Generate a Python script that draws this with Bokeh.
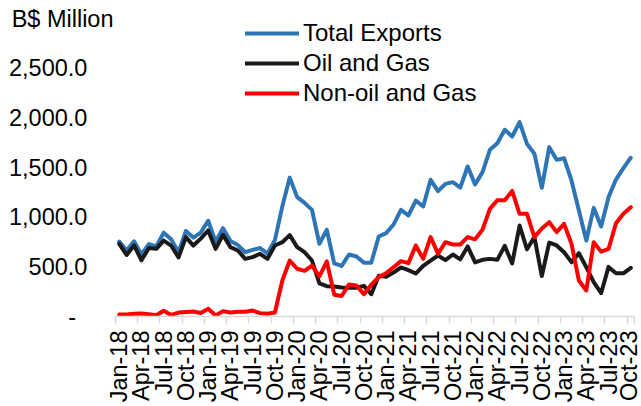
import math
from bokeh.plotting import figure
from bokeh.models import Range1d, FixedTicker, Legend, LegendItem
from bokeh.embed import file_html
from bokeh.resources import INLINE

# Monthly data, Jan-18 .. Oct-23 (70 months), B$ Million
tick_labels = ["Jan-18", "Apr-18", "Jul-18", "Oct-18", "Jan-19", "Apr-19", "Jul-19", "Oct-19",
               "Jan-20", "Apr-20", "Jul-20", "Oct-20", "Jan-21", "Apr-21", "Jul-21", "Oct-21",
               "Jan-22", "Apr-22", "Jul-22", "Oct-22", "Jan-23", "Apr-23", "Jul-23", "Oct-23"]

total_exports = [755, 665, 758, 625, 730, 706, 845, 778, 648, 862, 795, 845,
                 965, 755, 890, 760, 720, 648, 672, 690, 635, 770, 1110, 1400, 1203,
                 1145, 1075, 733, 874, 535, 510, 625, 605, 543, 543, 806, 840, 927, 1075,
                 1018, 1169, 1109, 1378, 1263, 1337, 1354, 1300,
                 1512, 1331, 1455, 1680, 1747, 1882, 1814, 1959, 1740, 1640, 1297, 1707,
                 1579, 1595, 1371, 1068, 766, 1095, 907, 1203, 1380, 1495, 1600]

oil_and_gas = [733, 620, 716, 567, 690, 682, 765, 715, 595, 800, 715, 785,
               867, 682, 823, 699, 665, 581, 598, 632, 581, 716, 749, 820, 699,
               648, 564, 333, 305, 302, 292, 290, 290, 309, 225, 410, 400, 443, 494,
               467, 433, 511, 564, 615, 568, 625, 576,
               706, 545, 571, 581, 571, 712, 535, 917, 677, 800, 408, 745, 716, 648,
               548, 638, 497, 346, 235, 500, 435, 435, 491]

non_oil_and_gas = [20, 20, 27, 30, 22, 12, 58, 15, 40, 45, 50, 35,
                   77, 10, 54, 40, 47, 47, 60, 34, 27, 40, 363, 564, 481,
                   460, 514, 405, 556, 220, 207, 323, 312, 225, 320, 397, 437, 497, 558,
                   538, 716, 581, 800, 632, 749, 726, 726,
                   800, 778, 875, 1085, 1172, 1172, 1266, 1035, 1035, 800, 887, 951,
                   850, 934, 733, 363, 262, 749, 654, 682, 940, 1035, 1102]

# y-axis tick values and labels (the unit caption sits at the top of the value axis)
y_ticks = [0, 500, 1000, 1500, 2000, 2500, 3000]
y_tick_labels = ["-", "500.0", "1,000.0", "1,500.0", "2,000.0", "2,500.0", "B$ Million"]

FONT = "Liberation Sans"
FS = "23.5px"
NB = "\u00a0"

# pad numeric labels on the right so that they line up left of the unit caption
pads = [NB * 5 + "\u2009"] + [NB * 4] * 5 + [""]
y_label_text = [lab + pad for lab, pad in zip(y_tick_labels, pads)]

months = list(range(len(total_exports)))
label_pos = list(range(0, len(total_exports), 3))
boundaries = [m - 0.5 for m in label_pos] + [len(total_exports) - 0.5]

p = figure(width=641, height=406, output_backend="svg", toolbar_location=None,
           x_range=Range1d(-0.5, len(total_exports) - 0.5), y_range=Range1d(0, 3044),
           min_border_left=115, min_border_right=7, min_border_top=14, min_border_bottom=90)
p.outline_line_color = None
p.xgrid.grid_line_color = None
p.ygrid.grid_line_color = None
p.background_fill_color = "white"
p.border_fill_color = "white"

# x axis: labels at every third month, tick marks on category boundaries
p.xaxis.ticker = FixedTicker(ticks=label_pos, minor_ticks=boundaries)
p.xaxis.major_label_overrides = {pos: lab for pos, lab in zip(label_pos, tick_labels)}
p.xaxis.major_label_orientation = math.pi / 2
p.xaxis.major_tick_line_color = None
p.xaxis.major_tick_out = 0
p.xaxis.major_tick_in = 0
p.xaxis.minor_tick_line_color = "#d9d9d9"
p.xaxis.minor_tick_line_width = 1.5
p.xaxis.minor_tick_out = 7
p.xaxis.minor_tick_in = 0
p.xaxis.axis_line_color = "#d9d9d9"
p.xaxis.axis_line_width = 1.5
p.xaxis.major_label_standoff = 7
p.xaxis.major_label_text_font = FONT
p.xaxis.major_label_text_font_size = FS
p.xaxis.major_label_text_color = "black"

# y axis
p.yaxis.ticker = FixedTicker(ticks=y_ticks)
p.yaxis.major_label_overrides = {t: lab for t, lab in zip(y_ticks, y_label_text)}
p.yaxis.axis_line_color = None
p.yaxis.major_tick_line_color = None
p.yaxis.minor_tick_line_color = None
p.yaxis.major_tick_out = 0
p.yaxis.major_tick_in = 0
p.yaxis.minor_tick_out = 0
p.yaxis.minor_tick_in = 0
p.yaxis.major_label_standoff = 2
p.yaxis.major_label_text_font = FONT
p.yaxis.major_label_text_font_size = FS
p.yaxis.major_label_text_color = "black"

r1 = p.line(months, total_exports, line_color="#2e75b6", line_width=4, line_join="round", line_cap="round")
r2 = p.line(months, oil_and_gas, line_color="#1a1a1a", line_width=4, line_join="round", line_cap="round")
r3 = p.line(months, non_oil_and_gas, line_color="#ff0000", line_width=4, line_join="round", line_cap="round")

legend = Legend(items=[LegendItem(label="Total Exports", renderers=[r1]),
                       LegendItem(label="Oil and Gas", renderers=[r2]),
                       LegendItem(label="Non-oil and Gas", renderers=[r3])],
                location=(130, 209))
legend.background_fill_alpha = 0
legend.border_line_color = None
legend.padding = 0
legend.margin = 0
legend.glyph_width = 54
legend.glyph_height = 20
legend.label_height = 20
legend.label_standoff = 4
legend.spacing = 2
legend.label_text_font = FONT
legend.label_text_font_size = "24px"
legend.label_text_color = "black"
p.add_layout(legend)

open("out.html", "w").write(file_html(p, INLINE))
